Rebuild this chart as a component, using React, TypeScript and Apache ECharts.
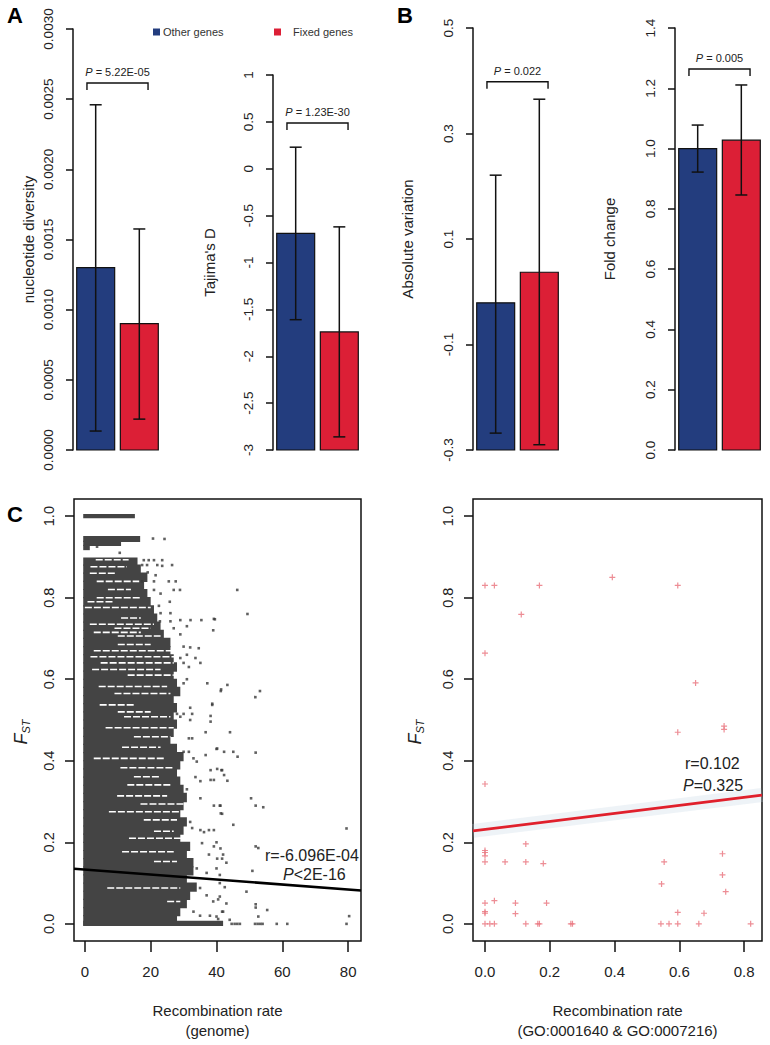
import React, { useEffect, useRef } from "react";
import * as echarts from "echarts";

const FONT = '"Liberation Sans", Arial, Helvetica, sans-serif';

// ---- Panel A/B data ----
const groups = ["Other genes", "Fixed genes"];
const barColors = ["#233d7e", "#dc1f36"];
const nucDivMean = [0.0013, 0.0009];
const nucDivLow = [0.000135, 0.00022];
const nucDivHigh = [0.00246, 0.001575];
const tajimaMean = [-0.69, -1.74];
const tajimaLow = [-1.61, -2.86];
const tajimaHigh = [0.23, -0.62];
const absVarMean = [-0.021, 0.037];
const absVarLow = [-0.268, -0.29];
const absVarHigh = [0.221, 0.365];
const foldMean = [1.0, 1.028];
const foldLow = [0.922, 0.846];
const foldHigh = [1.078, 1.211];
const pLabels = ["5.22E-05", "1.23E-30", "0.022", "0.005"];
const bracketLevels = [0.002615, 0.488, 0.398, 1.264];

// ---- Panel C left: genome-wide scatter ----
// dense rows: [fstLow, fstHigh, maxRecombinationRate]
const denseRows = [
  [0.996, 1.004, 15.2],
  [0.938, 0.95, 16.8],
  [0.928, 0.938, 11],
  [0.918, 0.928, 1.5],
  [0.88, 0.897, 16],
  [0.86, 0.88, 17],
  [0.84, 0.86, 19],
  [0.82, 0.84, 18],
  [0.8, 0.82, 19],
  [0.78, 0.8, 20],
  [0.76, 0.78, 21],
  [0.74, 0.76, 22],
  [0.72, 0.74, 23],
  [0.7, 0.72, 24],
  [0.68, 0.7, 26],
  [0.66, 0.68, 26],
  [0.64, 0.66, 27],
  [0.62, 0.64, 28],
  [0.6, 0.62, 27],
  [0.58, 0.6, 28],
  [0.56, 0.58, 29],
  [0.54, 0.56, 27],
  [0.52, 0.54, 28],
  [0.5, 0.52, 27],
  [0.48, 0.5, 28],
  [0.46, 0.48, 27],
  [0.44, 0.46, 26],
  [0.42, 0.44, 28],
  [0.4, 0.42, 30],
  [0.38, 0.4, 29],
  [0.36, 0.38, 28],
  [0.34, 0.36, 29],
  [0.32, 0.34, 30],
  [0.3, 0.32, 31],
  [0.28, 0.3, 30],
  [0.26, 0.28, 29],
  [0.24, 0.26, 31],
  [0.22, 0.24, 30],
  [0.2, 0.22, 29],
  [0.18, 0.2, 32],
  [0.16, 0.18, 31],
  [0.14, 0.16, 33],
  [0.12, 0.14, 33],
  [0.1, 0.12, 31],
  [0.08, 0.1, 34],
  [0.06, 0.08, 32],
  [0.04, 0.06, 31],
  [0.02, 0.04, 29],
  [-0.003, 0.02, 28],
  [-0.004, 0.006, 42],
];
// white gaps inside the dense block: [fst, rateFrom, rateTo]
const gapStreaks = [
  [0.893, 3.3, 13.3], [0.876, 1.7, 12.8], [0.86, 1.5, 9.5], [0.84, 3.6, 16.5],
  [0.82, 7, 14], [0.8, 3.6, 17], [0.79, 0.8, 9], [0.776, 0, 20],
  [0.75, 11, 17], [0.735, 1.5, 21], [0.725, 9, 20], [0.715, 2.7, 17],
  [0.706, 10, 23], [0.685, 10, 20], [0.67, 2.7, 27], [0.655, 1.7, 28],
  [0.64, 4.8, 27], [0.624, 2.2, 23], [0.61, 13, 27], [0.582, 4.2, 25],
  [0.565, 9, 26], [0.537, 4.5, 15], [0.52, 10, 20], [0.508, 11.9, 26],
  [0.481, 6.3, 27], [0.459, 14.9, 26], [0.433, 11.3, 23], [0.406, 2.7, 24],
  [0.383, 10.8, 27], [0.361, 14.9, 23], [0.341, 12.9, 26], [0.314, 9.8, 25],
  [0.294, 16.9, 30], [0.275, 7.3, 29], [0.255, 17.9, 28], [0.227, 21, 27],
  [0.21, 13.4, 30], [0.177, 11.3, 27], [0.153, 21, 28], [0.088, 6.8, 29],
  [0.055, 25, 29],
];
// sparse points: [recombination rate, FST]
const genomePoints = [
  [20.7, 0.945], [24.2, 0.944], [3.7, 0.925], [10.6, 0.91],
  [17.9, 0.892], [19.4, 0.892], [21, 0.892], [23.5, 0.892],
  [17.4, 0.88], [18.9, 0.88], [22, 0.88], [23.5, 0.878], [26.5, 0.88],
  [19.1, 0.862], [21.5, 0.855],
  [17.4, 0.84], [21, 0.84], [25.5, 0.84], [27.6, 0.84],
  [21, 0.819], [27, 0.819], [28.9, 0.819],
  [23, 0.81], [25.8, 0.79], [22.5, 0.78],
  [23, 0.762], [26, 0.762],
  [22.8, 0.742], [26, 0.742], [29, 0.745], [32.1, 0.745], [35.4, 0.745], [39.2, 0.748],
  [27, 0.725], [29, 0.71], [39, 0.72], [31, 0.73],
  [30, 0.68], [32, 0.678], [34.6, 0.676],
  [29, 0.652], [33.6, 0.652], [31, 0.66],
  [35.1, 0.64], [30, 0.64], [31.6, 0.63],
  [37.2, 0.59], [41.4, 0.575], [30, 0.59], [31, 0.6],
  [38.7, 0.54], [32, 0.53],
  [28, 0.515], [30, 0.515], [32.6, 0.515], [38.2, 0.51],
  [46.3, 0.819], [49.4, 0.76], [39.5, 0.747], [43.3, 0.586], [41.3, 0.571],
  [53.2, 0.571], [51.8, 0.556], [38.7, 0.537],
  [44.1, 0.47], [40, 0.429], [42.3, 0.422], [45.1, 0.422], [46.4, 0.41], [51.9, 0.42],
  [41.5, 0.377], [42.3, 0.365], [43.3, 0.351],
  [50.5, 0.308], [51.9, 0.29], [54.2, 0.286], [41, 0.29], [41.3, 0.271],
  [45.1, 0.243], [79.5, 0.234],
  [51.9, 0.19], [52.7, 0.186],
  [50.9, 0.13], [49.1, 0.079],
  [51.9, 0.048], [51.9, 0.04], [55.4, 0.034], [52.7, 0.018],
  [44.6, 0], [45.5, 0], [46.3, 0], [47.1, 0], [51.7, 0], [52.5, 0], [53.3, 0], [54, 0],
  [58.3, 0], [61.5, 0], [79.5, 0], [80.3, 0.019],
  [29, 0.508], [32, 0.5], [38.2, 0.496], [31.6, 0.455], [32.6, 0.455], [36.7, 0.47],
  [30, 0.422], [31.6, 0.422], [40.2, 0.43], [36.7, 0.414], [33, 0.406], [34, 0.398],
  [38.2, 0.377], [40.2, 0.38], [41.7, 0.377], [33.6, 0.36], [35.1, 0.35], [38.2, 0.353],
  [39.2, 0.353], [31, 0.33], [35.1, 0.308],
  [39.2, 0.29], [41.2, 0.29], [41.7, 0.27], [32, 0.25], [32.6, 0.235], [35.1, 0.23],
  [36.2, 0.225], [37.7, 0.23], [39.2, 0.23],
  [35.6, 0.198], [39.2, 0.19], [41.2, 0.185], [37.7, 0.17], [40.2, 0.16], [41.7, 0.16],
  [34, 0.136], [37, 0.125], [40, 0.136], [41, 0.12], [35, 0.088], [37, 0.07], [39, 0.055],
  [41, 0.067], [33, 0.03], [35, 0.02], [38, 0.02], [40, 0.018], [41.7, 0.03],
  [40, 0.2], [42, 0.17], [43, 0.15], [41, 0.1], [42.5, 0.09], [40.5, 0.06], [43, 0.05],
  [42, 0.03], [44, 0.01], [40.5, 0.012],
];
const genomeFit = [[-3.3, 0.135], [83.9, 0.082]];

// ---- Panel C right: GO genes ----
const goPoints = [
  [0.0, 0.83], [0.029, 0.83], [0.168, 0.83], [0.393, 0.85], [0.595, 0.83],
  [0.112, 0.759], [0.0, 0.664], [0.65, 0.591], [0.595, 0.47], [0.738, 0.485], [0.738, 0.477],
  [0.0, 0.343], [0.0, 0.18], [0.0, 0.175], [0.0, 0.167], [0.0, 0.152], [0.062, 0.152],
  [0.126, 0.196], [0.126, 0.152], [0.18, 0.148],
  [0.0, 0.051], [0.0, 0.03], [0.0, 0.026], [0.029, 0.057], [0.094, 0.051], [0.094, 0.025],
  [0.19, 0.051],
  [0.0, 0.0], [0.015, 0], [0.029, 0], [0.126, 0], [0.163, 0], [0.168, 0], [0.265, 0],
  [0.27, 0], [0.543, 0], [0.568, 0], [0.595, 0], [0.66, 0], [0.82, 0],
  [0.545, 0.098], [0.553, 0.152], [0.595, 0.028], [0.676, 0.026], [0.733, 0.172],
  [0.733, 0.12], [0.743, 0.079],
];
const goFit = [[-0.037, 0.228], [0.855, 0.316]];

const fstTicks = [0, 0.2, 0.4, 0.6, 0.8, 1.0];
const genomeTicks = [0, 20, 40, 60, 80];
const goTicks = [0, 0.2, 0.4, 0.6, 0.8];

const BAR_W = 0.87;
const X_MIN = -0.52;
const X_MAX = 1.52;

function barRender(yMin: number) {
  return (params: any, api: any) => {
    const i = api.value(0);
    const m = api.value(1);
    const lo = api.value(2);
    const hi = api.value(3);
    const top = api.coord([i, m]);
    const base = api.coord([i, yMin]);
    const w = api.size([BAR_W, 0])[0];
    const pHi = api.coord([i, hi]);
    const pLo = api.coord([i, lo]);
    const cx = top[0];
    const ls = { stroke: "#111", lineWidth: 1.5 };
    return {
      type: "group",
      children: [
        {
          type: "rect",
          shape: { x: cx - w / 2, y: top[1], width: w, height: base[1] - top[1] },
          style: { fill: barColors[i], stroke: "#111", lineWidth: 1.2 },
        },
        { type: "line", shape: { x1: cx, y1: pHi[1], x2: cx, y2: pLo[1] }, style: ls },
        { type: "line", shape: { x1: cx - 6, y1: pHi[1], x2: cx + 6, y2: pHi[1] }, style: ls },
        { type: "line", shape: { x1: cx - 6, y1: pLo[1], x2: cx + 6, y2: pLo[1] }, style: ls },
      ],
    };
  };
}

function bracketRender(p: string) {
  return (params: any, api: any) => {
    const lvl = api.value(0);
    const a = api.coord([-0.2, lvl]);
    const b = api.coord([1.2, lvl]);
    return {
      type: "group",
      children: [
        {
          type: "polyline",
          shape: { points: [[a[0], a[1] + 7], [a[0], a[1]], [b[0], a[1]], [b[0], a[1] + 7]] },
          style: { stroke: "#111", lineWidth: 1.4, fill: null },
        },
        {
          type: "text",
          x: (a[0] + b[0]) / 2,
          y: a[1] - 11,
          style: {
            text: "{i|P} = " + p,
            rich: { i: { fontStyle: "italic", fontSize: 11, fontFamily: FONT, fill: "#222" } },
            fontSize: 11,
            fontFamily: FONT,
            fill: "#222",
            align: "center",
            verticalAlign: "middle",
          },
        },
      ],
    };
  };
}

const makeBarData = (mean: number[], low: number[], high: number[]) =>
  groups.map((g, i) => [i, mean[i], low[i], high[i]]);

export default function App() {
  const ref = useRef<HTMLDivElement>(null);
  useEffect(() => {
    if (!ref.current) return;
    const chart = echarts.init(ref.current, null, { renderer: "svg" });

    const barGrids = [
      { left: 73, top: 29, width: 89, height: 421 },
      { left: 273, top: 75, width: 89, height: 375 },
      { left: 473, top: 28, width: 89, height: 422 },
      { left: 675, top: 28, width: 89, height: 422 },
    ];
    const barY = [
      { min: 0, max: 0.003, interval: 0.0005, name: "nucleotide diversity", gap: 37, fmt: (v: number) => v.toFixed(4) },
      { min: -3, max: 1, interval: 0.5, name: "Tajima's D", gap: 56, fmt: (v: number) => String(Math.round(v * 10) / 10) },
      { min: -0.3, max: 0.5, interval: 0.2, name: "Absolute variation", gap: 58, fmt: (v: number) => String(Math.round(v * 10) / 10) },
      { min: 0, max: 1.4, interval: 0.2, name: "Fold change", gap: 58, fmt: (v: number) => v.toFixed(1) },
    ];
    const barData = [
      makeBarData(nucDivMean, nucDivLow, nucDivHigh),
      makeBarData(tajimaMean, tajimaLow, tajimaHigh),
      makeBarData(absVarMean, absVarLow, absVarHigh),
      makeBarData(foldMean, foldLow, foldHigh),
    ];

    const grids: any[] = [
      ...barGrids,
      { left: 74, top: 499, width: 287, height: 442, show: true, borderColor: "#111", borderWidth: 1.5, backgroundColor: "transparent" },
      { left: 473, top: 499, width: 289, height: 442, show: true, borderColor: "#111", borderWidth: 1.5, backgroundColor: "transparent" },
    ];

    const xAxes: any[] = barGrids.map((g, i) => ({
      type: "value", gridIndex: i, min: X_MIN, max: X_MAX, show: false,
    }));
    const yAxes: any[] = barY.map((y, i) => ({
      type: "value",
      gridIndex: i,
      min: y.min,
      max: y.max,
      interval: y.interval,
      name: y.name,
      nameLocation: "middle",
      nameGap: y.gap,
      nameRotate: 90,
      nameTextStyle: { fontSize: 15, fontFamily: FONT, color: "#222" },
      axisLine: { show: true, onZero: false, lineStyle: { color: "#111", width: 1.5 } },
      axisTick: { show: true, inside: false, length: 7, lineStyle: { color: "#111", width: 1.5 } },
      axisLabel: { rotate: 90, margin: 18, fontSize: 13.5, fontFamily: FONT, color: "#222", formatter: y.fmt, showMinLabel: true, showMaxLabel: true },
      splitLine: { show: false },
    }));

    const scatterAxisCommon = {
      axisLine: { show: false, onZero: false },
      splitLine: { show: false },
    };
    xAxes.push(
      {
        type: "value", gridIndex: 4, min: -3.3, max: 83.9, ...scatterAxisCommon,
        axisTick: { show: true, length: 11, customValues: genomeTicks, lineStyle: { color: "#111", width: 1.5 } },
        axisLabel: { customValues: genomeTicks, margin: 23, fontSize: 15, fontFamily: FONT, color: "#222" },
        name: "Recombination rate\n(genome)", nameLocation: "middle", nameGap: 59,
        nameTextStyle: { fontSize: 15, fontFamily: FONT, color: "#222", lineHeight: 20 },
      },
      {
        type: "value", gridIndex: 5, min: -0.037, max: 0.855, ...scatterAxisCommon,
        axisTick: { show: true, length: 11, customValues: goTicks, lineStyle: { color: "#111", width: 1.5 } },
        axisLabel: { customValues: goTicks, margin: 23, fontSize: 15, fontFamily: FONT, color: "#222", formatter: (v: number) => v.toFixed(1) },
        name: "Recombination rate\n(GO:0001640 & GO:0007216)", nameLocation: "middle", nameGap: 59,
        nameTextStyle: { fontSize: 15, fontFamily: FONT, color: "#222", lineHeight: 20 },
      }
    );
    [4, 5].forEach((gi) =>
      yAxes.push({
        type: "value", gridIndex: gi, min: -0.042, max: 1.042, ...scatterAxisCommon,
        axisTick: { show: true, length: 9, customValues: fstTicks, lineStyle: { color: "#111", width: 1.5 } },
        axisLabel: { customValues: fstTicks, rotate: 90, margin: 18, fontSize: 14.5, fontFamily: FONT, color: "#222", formatter: (v: number) => v.toFixed(1) },
      })
    );

    const series: any[] = [];
    barData.forEach((d, i) => {
      series.push({
        type: "custom", xAxisIndex: i, yAxisIndex: i, data: d,
        renderItem: barRender(barY[i].min), silent: true,
      });
      series.push({
        type: "custom", xAxisIndex: i, yAxisIndex: i, data: [[bracketLevels[i]]],
        renderItem: bracketRender(pLabels[i]), silent: true,
      });
    });

    // genome scatter
    series.push({
      type: "custom", xAxisIndex: 4, yAxisIndex: 4, data: denseRows, silent: true, z: 2,
      renderItem: (p: any, api: any) => {
        const a = api.coord([-0.5, api.value(1)]);
        const b = api.coord([api.value(2), api.value(0)]);
        return { type: "rect", shape: { x: a[0], y: a[1] - 0.6, width: b[0] - a[0], height: b[1] - a[1] + 1.2 }, style: { fill: "#444" } };
      },
    });
    series.push({
      type: "custom", xAxisIndex: 4, yAxisIndex: 4, data: gapStreaks, silent: true, z: 3,
      renderItem: (p: any, api: any) => {
        const a = api.coord([api.value(1), api.value(0)]);
        const b = api.coord([api.value(2), api.value(0)]);
        return { type: "line", shape: { x1: a[0], y1: a[1], x2: b[0], y2: b[1] }, style: { stroke: "#fff", lineWidth: 1.6, lineDash: [7, 2] } };
      },
    });
    series.push({
      type: "scatter", xAxisIndex: 4, yAxisIndex: 4, data: genomePoints, symbol: "rect", symbolSize: 2.6,
      itemStyle: { color: "#3a3a3a" }, silent: true, z: 4,
    });
    series.push({
      type: "line", xAxisIndex: 4, yAxisIndex: 4, data: genomeFit, showSymbol: false, silent: true, z: 5,
      lineStyle: { color: "#000", width: 2.6 },
    });

    // GO scatter
    series.push({
      type: "line", xAxisIndex: 5, yAxisIndex: 5, data: goFit, showSymbol: false, silent: true, z: 2,
      lineStyle: { color: "rgba(195,212,228,0.28)", width: 14 },
    });
    series.push({
      type: "scatter", xAxisIndex: 5, yAxisIndex: 5, data: goPoints,
      symbol: "path://M2,0 L3,0 L3,2 L5,2 L5,3 L3,3 L3,5 L2,5 L2,3 L0,3 L0,2 L2,2 Z",
      symbolSize: 6, itemStyle: { color: "#e9707a" }, silent: true, z: 3,
    });
    series.push({
      type: "line", xAxisIndex: 5, yAxisIndex: 5, data: goFit, showSymbol: false, silent: true, z: 4,
      lineStyle: { color: "#e0202c", width: 2.8 },
    });

    const letter = (t: string, x: number, y: number) => ({
      type: "text", x, y,
      style: { text: t, fontSize: 22, fontWeight: "bold", fontFamily: FONT, fill: "#000", align: "left", verticalAlign: "top" },
    });
    const fst = (x: number) => ({
      type: "text", x, y: 732, rotation: Math.PI / 2,
      style: {
        text: "{f|F}{s|ST}",
        rich: {
          f: { fontSize: 18, fontStyle: "italic", fontFamily: FONT, fill: "#222" },
          s: { fontSize: 11, fontStyle: "italic", fontFamily: FONT, fill: "#222", padding: [9, 0, 0, 0] },
        },
        align: "center", verticalAlign: "middle",
      },
    });
    const annot = (x: number, y: number, text: string) => ({
      type: "text", x, y,
      style: {
        text,
        rich: { i: { fontStyle: "italic", fontSize: 16, fontFamily: FONT, fill: "#222" } },
        fontSize: 16, fontFamily: FONT, fill: "#222", align: "left", verticalAlign: "middle",
      },
    });

    const graphic: any[] = [
      letter("A", 7, 4),
      letter("B", 397, 4),
      letter("C", 7, 503),
      { type: "rect", shape: { x: 153, y: 28.5, width: 7, height: 7 }, style: { fill: barColors[0] } },
      { type: "text", x: 163, y: 32, style: { text: groups[0], fontSize: 11, fontFamily: FONT, fill: "#333", align: "left", verticalAlign: "middle" } },
      { type: "rect", shape: { x: 274, y: 28.5, width: 7, height: 7 }, style: { fill: barColors[1] } },
      { type: "text", x: 293, y: 32, style: { text: groups[1], fontSize: 11, fontFamily: FONT, fill: "#333", align: "left", verticalAlign: "middle" } },
      fst(21),
      fst(415),
      annot(265, 855, "r=-6.096E-04"),
      annot(283, 874, "{i|P}<2E-16"),
      annot(685, 763, "r=0.102"),
      annot(683, 785, "{i|P}=0.325"),
    ];

    chart.setOption({
      animation: false,
      backgroundColor: "#fff",
      textStyle: { fontFamily: FONT },
      grid: grids,
      xAxis: xAxes,
      yAxis: yAxes,
      series,
      graphic,
    });
    return () => chart.dispose();
  }, []);

  return <div ref={ref} style={{ position: "absolute", left: 0, top: 0, width: 770, height: 1045 }} />;
}
